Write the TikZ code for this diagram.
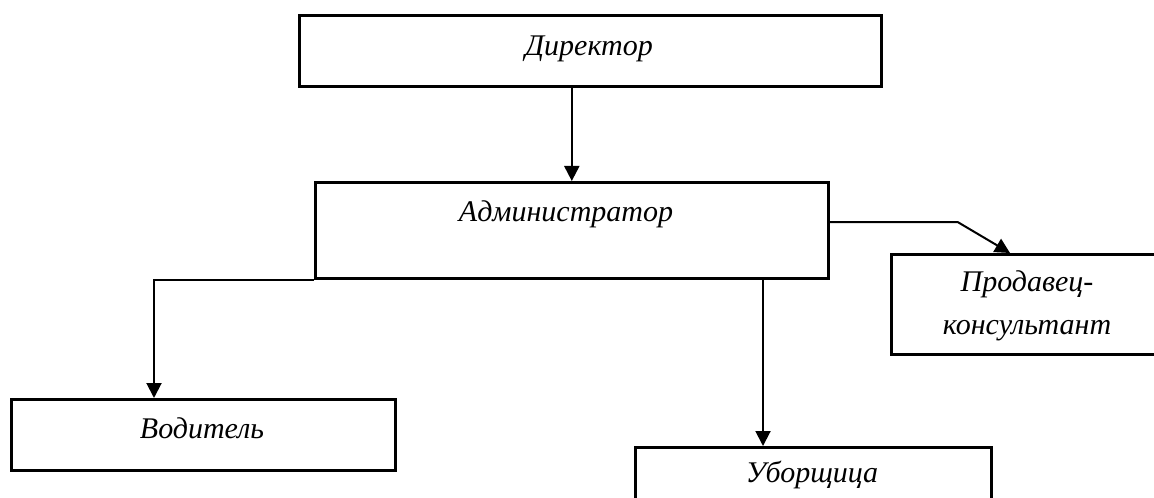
\documentclass[tikz,border=0pt]{standalone}
\usepackage{fontspec}
\setmainfont{Liberation Serif}
\usetikzlibrary{arrows.meta,calc}
\tikzset{
  box/.style={draw=black, line width=1.3pt, fill=white, inner sep=0pt, anchor=north west},
  txt/.style={font=\fontsize{15pt}{21.5pt}\selectfont\itshape, inner sep=0pt, align=center},
  conn/.style={draw=black, line width=1pt},
  arr/.style={conn, -{Triangle[width=7.5pt,length=7.5pt]}}
}
\begin{document}
\begin{tikzpicture}[x=0.5pt,y=-0.5pt]
  \useasboundingbox (0,0) rectangle (1154,497);
  \clip (0,0) rectangle (1154,497);
  % boxes
  \node[box, minimum width=291pt, minimum height=35.5pt] (dir) at (298,14) {};
  \node[box, minimum width=256.5pt, minimum height=48pt] (admin) at (314,181) {};
  \node[box, minimum width=192pt, minimum height=35.5pt] (vod) at (10,398) {};
  \node[box, minimum width=178pt, minimum height=50pt] (ub) at (634,446) {};
  \node[box, minimum width=140pt, minimum height=50pt] (prod) at (890,253) {};
  % texts
  \node[txt] (dirt) at (589,49) {Директор};
  \node[txt] (admint) at (566,214) {Администратор};
  \node[txt] (vodt) at (202,428) {Водитель};
  \node[txt] (ubt) at (812,475) {Уборщица};
  \node[txt] (prodt) at (1027,306) {Продавец-\\консультант};
  % connectors
  \coordinate (bend) at ($(admin.north east)+(128,41)$);
  \coordinate (prodin) at ($(prod.north west)+(120,0)$);
  \coordinate (vodin) at ($(vod.north west)+(144,0)$);
  \coordinate (ubin) at ($(ub.north west)+(129,0)$);
  \draw[arr] (dir.south -| admin.north) -- (admin.north);
  \draw[arr] (admin.east |- bend) -- (bend) -- (prodin);
  \draw[arr] (admin.south west) -- (admin.south west -| vodin) -- (vodin);
  \draw[arr] (admin.south -| ubin) -- (ubin);
\end{tikzpicture}
\end{document}
